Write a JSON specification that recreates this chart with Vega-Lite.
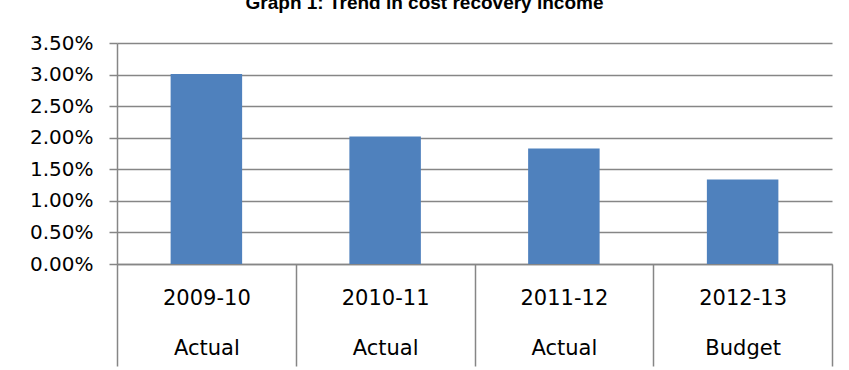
{
  "$schema": "https://vega.github.io/schema/vega-lite/v6.json",
  "width": 715,
  "height": 221,
  "autosize": {"type": "none"},
  "padding": {"left": 117, "top": 43, "right": 17, "bottom": 106},
  "background": "white",
  "title": {
    "text": "Graph 1: Trend in cost recovery income",
    "font": "Liberation Sans",
    "fontSize": 19,
    "fontWeight": "bold",
    "color": "#000000",
    "anchor": "middle",
    "frame": "group",
    "dx": -50,
    "dy": -16
  },
  "data": {
    "values": [
      {"period": "2009-10|Actual", "value": 0.0301},
      {"period": "2010-11|Actual", "value": 0.0202},
      {"period": "2011-12|Actual", "value": 0.0183},
      {"period": "2012-13|Budget", "value": 0.0134}
    ]
  },
  "mark": {"type": "bar", "color": "#4F81BD", "width": {"band": 0.4}},
  "encoding": {
    "x": {
      "field": "period",
      "type": "nominal",
      "sort": null,
      "scale": {"paddingInner": 0, "paddingOuter": 0},
      "axis": {
        "title": null,
        "labelExpr": "split(datum.label, '|')",
        "labelFont": "DejaVu Sans",
        "labelFontSize": 21,
        "labelColor": "#000000",
        "labelLineHeight": 50,
        "labelBaseline": "middle",
        "labelPadding": -68,
        "labelAngle": 0,
        "tickBand": "extent",
        "tickSize": 102,
        "tickColor": "#868686",
        "tickWidth": 1.5,
        "domainColor": "#868686",
        "domainWidth": 1.5,
        "grid": false
      }
    },
    "y": {
      "field": "value",
      "type": "quantitative",
      "scale": {"domain": [0, 0.035], "nice": false},
      "axis": {
        "title": null,
        "values": [0, 0.005, 0.01, 0.015, 0.02, 0.025, 0.03, 0.035],
        "format": ".2%",
        "labelFont": "DejaVu Sans",
        "labelFontSize": 20,
        "labelColor": "#000000",
        "labelPadding": 16,
        "tickSize": 8,
        "tickColor": "#868686",
        "tickWidth": 1.5,
        "domainColor": "#868686",
        "domainWidth": 1.5,
        "grid": true,
        "gridColor": "#868686",
        "gridWidth": 1.5,
        "gridOpacity": 1
      }
    }
  },
  "config": {"view": {"stroke": null}}
}
